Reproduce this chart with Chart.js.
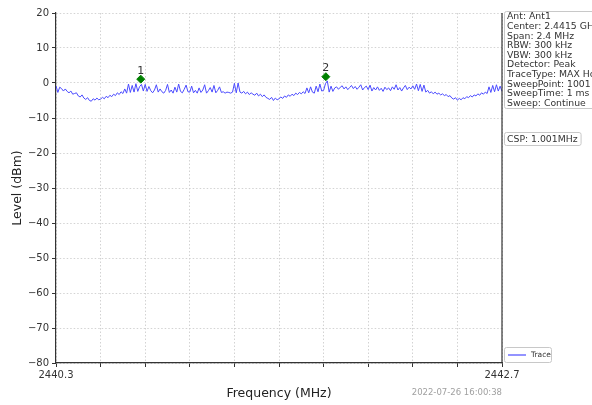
<!DOCTYPE html>
<html lang="en">
<head>
<meta charset="UTF-8">
<title>Spectrum</title>
<style>
  html, body { margin: 0; padding: 0; background: #fff; }
  #wrap { width: 592px; height: 405px; position: relative; }
</style>
</head>
<body>
<div id="wrap"><canvas id="myChart" width="592" height="405"></canvas></div>
<script src="https://cdn.jsdelivr.net/npm/chart.js"></script>
<script>
// sweep settings
const freqStart = 2440.3;
const freqStop = 2442.7;
const freqStep = 0.01;
const tickStep = 0.24;

// trace level (dBm), one value per freqStep
const traceLevels = [
  -0.8,-2.7,-1.2,-1.6,-2.3,-1.7,-2.4,-2.8,-2.3,-3.2,-3.0,-2.8,-3.7,-4.0,-3.4,-4.3,-4.7,-4.2,-5.0,-5.2,-4.5,-4.9,-4.3,-4.8,
  -4.6,-4.1,-4.5,-3.8,-4.2,-3.5,-3.9,-3.2,-3.6,-2.8,-3.3,-2.5,-3.0,-1.7,-2.9,-0.3,-2.7,-0.7,-2.6,-0.2,-2.4,-1.0,-0.4,-2.3,
  -0.4,-2.4,-1.0,-2.2,-2.8,-2.0,-0.5,-2.6,-1.7,-2.5,-2.9,-2.1,-0.4,-2.7,-2.0,-2.9,-1.2,-2.6,-0.3,-2.4,-2.8,-1.8,-0.6,-2.5,
  -2.6,-0.9,-2.8,-2.1,-2.9,-1.4,-2.7,-2.0,-0.5,-2.9,-2.2,-1.3,-2.6,-0.7,-2.8,-2.1,-1.1,-2.7,-2.5,-2.9,-2.6,-2.7,-2.9,-2.6,
  -0.1,-2.8,0.0,-2.6,-2.9,-2.4,-3.1,-2.6,-3.3,-2.8,-3.2,-3.5,-2.9,-3.7,-3.2,-3.9,-3.4,-4.1,-4.4,-4.7,-4.1,-5.0,-4.3,-4.8,
  -4.5,-4.0,-4.4,-3.7,-4.1,-3.4,-3.8,-3.2,-3.6,-2.9,-3.3,-2.7,-3.1,-2.5,-3.0,-1.4,-2.8,-1.1,-2.6,-2.9,-0.9,-2.5,-0.3,-2.3,
  -2.1,-0.2,0.6,-2.6,-0.9,-2.4,-1.4,-1.1,-1.8,-1.2,-0.8,-1.7,-1.1,-1.9,-1.3,-0.7,-1.6,-1.0,-1.8,-1.2,-0.5,-2.0,-1.3,-0.9,
  -1.9,-0.6,-2.3,-1.3,-2.0,-1.1,-2.1,-1.5,-2.4,-1.2,-1.9,-1.4,-2.2,-1.1,-1.8,-0.5,-2.0,-1.3,-2.3,-1.4,-0.7,-1.9,-1.2,-1.7,
  -0.8,-1.8,-0.3,-2.2,-0.4,-2.4,-0.6,-2.6,-2.1,-2.9,-2.5,-3.1,-2.6,-3.2,-2.9,-3.4,-3.1,-3.6,-3.3,-3.9,-3.6,-4.3,-4.6,-4.2,
  -4.9,-4.4,-4.8,-4.2,-4.5,-3.9,-4.2,-3.6,-4.0,-3.4,-3.7,-3.1,-3.5,-2.8,-3.2,-2.6,-3.0,-1.1,-2.7,-0.7,-2.5,-0.5,-2.3,-0.9,-2.4
];

// peak markers
const markerNames = ['1', '2'];
const markerFreqs = [2440.756, 2441.752];
const markerLevels = [1.1, 1.8];

// y axis
const levelMin = -80;
const levelMax = 20;
const levelStep = 10;

// side panel text
const infoLines = [
  'Ant: Ant1',
  'Center: 2.4415 GHz',
  'Span: 2.4 MHz',
  'RBW: 300 kHz',
  'VBW: 300 kHz',
  'Detector: Peak',
  'TraceType: MAX Hold',
  'SweepPoint: 1001',
  'SweepTime: 1 ms',
  'Sweep: Continue'
];
const cspText = 'CSP: 1.001MHz';
const timeStamp = '2022-07-26 16:00:38';
const legendLabel = 'Trace';

const FONT = "'DejaVu Sans', sans-serif";
const traceColor = '#4b4bff';

const tracePoints = traceLevels.map((v, i) => ({ x: freqStart + i * freqStep, y: v }));
const markerPoints = markerFreqs.map((f, i) => ({ x: f, y: markerLevels[i] }));
const freqTicks = [];
for (let i = 0; i <= 10; i++) freqTicks.push(+(freqStart + i * tickStep).toFixed(3));

function roundRect(ctx, x, y, w, h, r) {
  ctx.beginPath();
  ctx.moveTo(x + r, y);
  ctx.lineTo(x + w - r, y);
  ctx.quadraticCurveTo(x + w, y, x + w, y + r);
  ctx.lineTo(x + w, y + h - r);
  ctx.quadraticCurveTo(x + w, y + h, x + w - r, y + h);
  ctx.lineTo(x + r, y + h);
  ctx.quadraticCurveTo(x, y + h, x, y + h - r);
  ctx.lineTo(x, y + r);
  ctx.quadraticCurveTo(x, y, x + r, y);
  ctx.closePath();
}

const extras = {
  id: 'extras',
  afterDraw(chart) {
    const ctx = chart.ctx;
    const area = chart.chartArea;
    const xs = chart.scales.x, ys = chart.scales.y;
    ctx.save();

    // right spine
    ctx.strokeStyle = '#333';
    ctx.lineWidth = 1.2;
    ctx.beginPath();
    ctx.moveTo(area.right, area.top);
    ctx.lineTo(area.right, area.bottom);
    ctx.stroke();

    // marker names
    ctx.fillStyle = '#333';
    ctx.font = '11px ' + FONT;
    ctx.textAlign = 'center';
    ctx.textBaseline = 'bottom';
    markerPoints.forEach((p, i) => {
      ctx.fillText(markerNames[i], xs.getPixelForValue(p.x), ys.getPixelForValue(p.y) - 3);
    });

    // info box
    const bx = area.right + 2;
    ctx.fillStyle = '#fff';
    ctx.strokeStyle = '#c8c8c8';
    ctx.lineWidth = 1;
    roundRect(ctx, bx + 0.5, 11.5, 110, 97, 2);
    ctx.fill();
    ctx.stroke();
    ctx.fillStyle = '#333';
    ctx.font = '9.3px ' + FONT;
    ctx.textAlign = 'left';
    ctx.textBaseline = 'middle';
    infoLines.forEach((t, i) => ctx.fillText(t, bx + 3, 17 + i * 9.6));

    // CSP box
    const cw = ctx.measureText(cspText).width;
    ctx.fillStyle = '#fff';
    roundRect(ctx, bx + 0.5, 132.5, cw + 6, 13, 2);
    ctx.fill();
    ctx.stroke();
    ctx.fillStyle = '#333';
    ctx.fillText(cspText, bx + 3, 139.5);

    // legend
    roundRect(ctx, bx + 0.5, 347.5, 47, 15, 2);
    ctx.fillStyle = '#fff';
    ctx.fill();
    ctx.stroke();
    ctx.strokeStyle = traceColor;
    ctx.lineWidth = 1.2;
    ctx.beginPath();
    ctx.moveTo(bx + 4, 355);
    ctx.lineTo(bx + 22, 355);
    ctx.stroke();
    ctx.fillStyle = '#333';
    ctx.font = '7.5px ' + FONT;
    ctx.fillText(legendLabel, bx + 27, 355.5);

    // timestamp
    ctx.fillStyle = '#a0a0a0';
    ctx.font = '8.5px ' + FONT;
    ctx.textAlign = 'right';
    ctx.fillText(timeStamp, area.right, 393);
    ctx.restore();
  }
};

const config = {
  type: 'line',
  data: {
    datasets: [
      {
        label: legendLabel,
        data: tracePoints,
        borderColor: traceColor,
        borderWidth: 1,
        pointRadius: 0,
        tension: 0,
        order: 2
      },
      {
        label: 'Markers',
        data: markerPoints,
        showLine: false,
        pointStyle: 'rectRot',
        pointRadius: 4,
        backgroundColor: '#008000',
        borderColor: '#008000',
        order: 1
      }
    ]
  },
  options: {
    responsive: false,
    animation: false,
    layout: { padding: { top: 13, right: 90, left: 0, bottom: 0 } },
    plugins: { legend: { display: false }, tooltip: { enabled: false } },
    scales: {
      x: {
        type: 'linear',
        min: freqStart,
        max: freqStop,
        afterBuildTicks: (scale) => { scale.ticks = freqTicks.map(v => ({ value: v })); },
        afterFit: (scale) => { scale.height = 42; },
        ticks: {
          autoSkip: false,
          maxRotation: 0,
          padding: 2,
          color: '#333',
          font: { family: FONT, size: 10 },
          callback: (v) => (Math.abs(v - freqStart) < 1e-6 || Math.abs(v - freqStop) < 1e-6) ? v.toFixed(1) : ''
        },
        grid: { color: '#c8c8c8', lineWidth: 0.8, tickLength: 4, tickColor: '#333', tickWidth: 1 },
        border: { display: true, color: '#333', width: 1.2, dash: [1.5, 2] },
        title: { display: true, text: 'Frequency (MHz)', color: '#222', font: { family: FONT, size: 12.5 }, padding: { top: 4, bottom: 4 } }
      },
      y: {
        min: levelMin,
        max: levelMax,
        afterFit: (scale) => { scale.width = 56; },
        ticks: {
          stepSize: levelStep,
          padding: 3,
          color: '#333',
          font: { family: FONT, size: 10 },
          callback: (v) => String(v).replace('-', '\u2212')
        },
        grid: { color: '#c8c8c8', lineWidth: 0.8, tickLength: 4, tickColor: '#333', tickWidth: 1 },
        border: { display: true, color: '#333', width: 1.2, dash: [1.5, 2] },
        title: { display: true, text: 'Level (dBm)', color: '#222', font: { family: FONT, size: 12.5 }, padding: { top: 10, bottom: 4 } }
      }
    }
  },
  plugins: [extras]
};

new Chart(document.getElementById('myChart'), config);
</script>
</body>
</html>
